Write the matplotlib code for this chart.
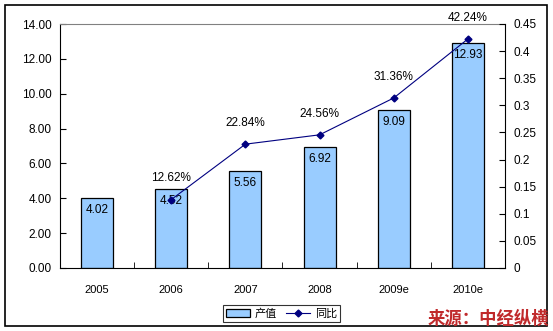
import matplotlib.pyplot as plt
import numpy as np
from matplotlib.patches import Rectangle
from matplotlib.lines import Line2D
from matplotlib.patches import Patch

plt.rcParams['font.family'] = ['Liberation Sans', 'Noto Sans CJK SC', 'DejaVu Sans']
plt.rcParams['font.size'] = 8.5

# data
years = ['2005', '2006', '2007', '2008', '2009e', '2010e']
output = [4.02, 4.52, 5.56, 6.92, 9.09, 12.93]
growth_years = ['2006', '2007', '2008', '2009e', '2010e']
growth = [0.1262, 0.2284, 0.2456, 0.3136, 0.4224]

W, H = 553, 331
fig = plt.figure(figsize=(W / 100, H / 100), dpi=100)
ax = fig.add_axes([60 / W, 1 - 268 / H, 445 / W, 244 / H])

x = np.arange(len(years))
ax.bar(x, output, 0.43, color='#99CCFF', edgecolor='black', linewidth=0.9, zorder=2)
for xi, v in zip(x, output):
    ax.text(xi, v - 0.35, f'{v:.2f}', ha='center', va='top', fontsize=8.5, zorder=5)

ax.set_xlim(-0.5, len(years) - 0.5)
ax.set_ylim(0, 14)
ax.set_yticks(np.arange(0, 14.01, 2))
ax.set_yticklabels([f'{t:.2f}' for t in np.arange(0, 14.01, 2)])
ax.set_xticks(x)
ax.set_xticklabels(years, fontsize=8)
ax.set_xticks(x[:-1] + 0.5, minor=True)
ax.tick_params(axis='x', which='major', length=0, pad=12)
ax.tick_params(axis='x', which='minor', direction='in', length=4)
ax.tick_params(axis='y', direction='in', length=4, pad=6)
ax.spines['top'].set_color('#808080')
ax.spines['right'].set_visible(False)
for s in ['left', 'bottom']:
    ax.spines[s].set_color('black')

ax2 = ax.twinx()
gx = [years.index(y) for y in growth_years]
ax2.plot(gx, growth, color='#000080', linewidth=0.8, marker='D', markersize=3.5, zorder=4)
for xi, g in zip(gx, growth):
    ax2.text(xi, g + 0.028, f'{g * 100:.2f}%', ha='center', va='bottom', fontsize=8.5)
ax2.set_ylim(0, 0.45)
ax2.set_yticks(np.arange(0, 0.451, 0.05))
ax2.set_yticklabels(['0', '0.05', '0.1', '0.15', '0.2', '0.25', '0.3', '0.35', '0.4', '0.45'])
ax2.tick_params(axis='y', direction='in', length=4, pad=6)
ax2.spines['right'].set_color('black')
ax2.spines['top'].set_visible(False)
ax2.spines['left'].set_visible(False)
ax2.spines['bottom'].set_visible(False)

handles = [Patch(facecolor='#99CCFF', edgecolor='black', linewidth=0.9),
           Line2D([], [], color='#000080', marker='D', markersize=3.5, linewidth=0.8)]
leg = fig.legend(handles, ['产值', '同比'], loc='center', bbox_to_anchor=(281.5 / W, 1 - 313.5 / H),
                 ncol=2, frameon=True, fancybox=False, edgecolor='black', fontsize=8,
                 handlelength=2.2, handleheight=0.8, columnspacing=0.8, handletextpad=0.4,
                 borderpad=0.3)
leg.get_frame().set_linewidth(0.8)

fig.patches.append(Rectangle((5 / W, 1 - 326 / H), 542 / W, 321 / H, transform=fig.transFigure,
                             fill=False, edgecolor='black', linewidth=1.2))

fig.text(549 / W, 1 - 319 / H, '来源：中经纵横', ha='right', va='center', color='#C0292B',
         fontsize=12.5, fontweight='bold', style='italic', family=['Noto Sans CJK SC', 'DejaVu Sans'])

fig.savefig('out.png', dpi=100)
